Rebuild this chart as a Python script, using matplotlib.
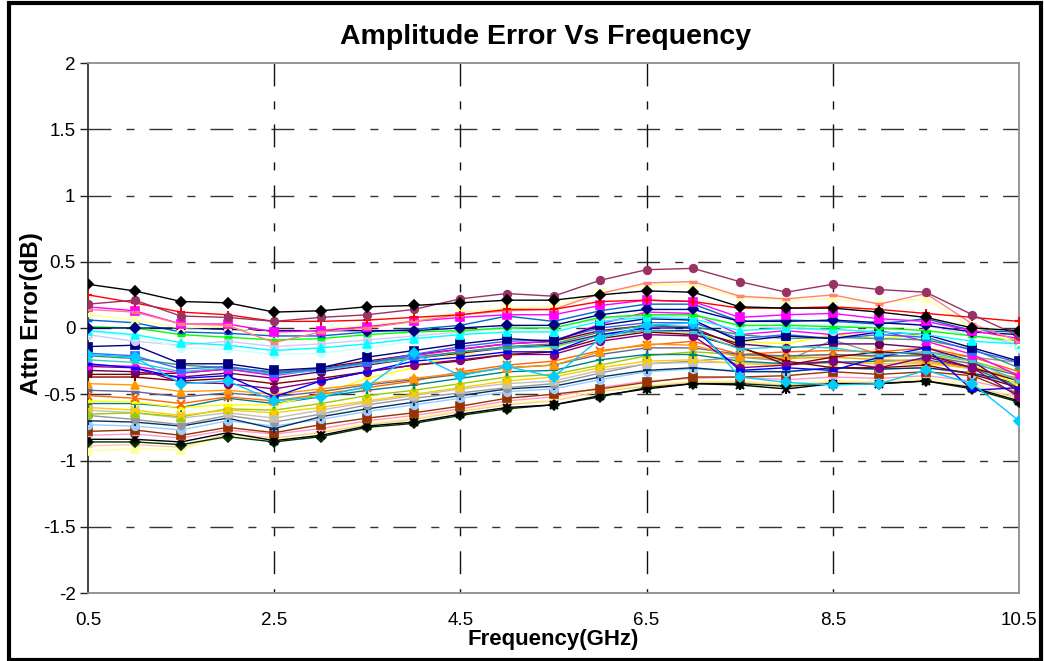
import matplotlib
matplotlib.use("Agg")
import matplotlib.pyplot as plt
from matplotlib.patches import Rectangle

plt.rcParams['font.family'] = ['Liberation Sans', 'DejaVu Sans']

freq = [0.5, 1.0, 1.5, 2.0, 2.5, 3.0, 3.5, 4.0, 4.5, 5.0, 5.5,
        6.0, 6.5, 7.0, 7.5, 8.0, 8.5, 9.0, 9.5, 10.0, 10.5]

x_ticks = [0.5, 2.5, 4.5, 6.5, 8.5, 10.5]
x_tick_labels = ["0.5", "2.5", "4.5", "6.5", "8.5", "10.5"]
y_ticks = [-2, -1.5, -1, -0.5, 0, 0.5, 1, 1.5, 2]
y_tick_labels = ["-2", "-1.5", "-1", "-0.5", "0", "0.5", "1", "1.5", "2"]

# Attenuation-state error curves (dB)
s01 = [0.33, 0.28, 0.20, 0.19, 0.12, 0.13, 0.16, 0.17, 0.19, 0.21, 0.21, 0.25, 0.28, 0.27, 0.16, 0.15, 0.15, 0.12, 0.08, 0.00, -0.02]
s02 = [0.18, 0.21, 0.09, 0.08, 0.05, 0.08, 0.10, 0.14, 0.22, 0.26, 0.24, 0.36, 0.44, 0.45, 0.35, 0.27, 0.33, 0.29, 0.27, 0.10, -0.06]
s03 = [0.25, 0.19, 0.12, 0.10, 0.05, 0.05, 0.06, 0.08, 0.10, 0.14, 0.14, 0.20, 0.21, 0.20, 0.15, 0.15, 0.16, 0.14, 0.11, 0.08, 0.05]
s04 = [0.14, 0.12, 0.03, 0.02, -0.11, -0.03, 0.00, 0.05, 0.10, 0.13, 0.14, 0.26, 0.34, 0.35, 0.24, 0.22, 0.25, 0.18, 0.26, 0.03, -0.10]
s05 = [0.16, 0.13, 0.03, 0.03, -0.03, -0.02, 0.01, 0.05, 0.08, 0.10, 0.10, 0.17, 0.21, 0.20, 0.08, 0.10, 0.11, 0.07, 0.05, -0.02, -0.08]
s06 = [0.10, 0.06, 0.00, 0.01, -0.05, -0.01, 0.02, 0.06, 0.12, 0.15, 0.16, 0.27, 0.32, 0.33, 0.23, 0.21, 0.22, 0.19, 0.22, 0.00, -0.12]
s07 = [0.00, 0.00, 0.00, -0.01, -0.02, -0.02, -0.02, -0.02, 0.00, 0.02, 0.02, 0.10, 0.14, 0.14, 0.05, 0.05, 0.06, 0.04, 0.02, -0.03, -0.05]
s08 = [0.06, 0.04, -0.03, -0.04, -0.06, -0.06, -0.03, -0.01, 0.02, 0.09, 0.05, 0.13, 0.18, 0.18, 0.05, 0.06, 0.05, 0.03, 0.07, -0.02, -0.03]
s09 = [0.01, 0.00, -0.05, -0.07, -0.09, -0.08, -0.05, -0.03, -0.02, 0.00, 0.00, 0.08, 0.10, 0.10, 0.02, 0.02, 0.01, 0.00, -0.02, -0.06, -0.10]
s10 = [-0.02, -0.05, -0.11, -0.13, -0.17, -0.15, -0.12, -0.08, -0.05, -0.03, -0.03, 0.05, 0.08, 0.07, -0.02, 0.00, -0.01, -0.03, -0.05, -0.10, -0.12]
s11 = [-0.03, -0.06, -0.15, -0.16, -0.20, -0.19, -0.15, -0.10, -0.04, 0.00, -0.03, 0.10, 0.15, 0.14, 0.00, 0.03, 0.02, 0.03, 0.05, -0.05, -0.15]
s12 = [-0.14, -0.13, -0.27, -0.27, -0.32, -0.30, -0.22, -0.17, -0.12, -0.08, -0.10, 0.02, 0.07, 0.06, -0.10, -0.06, -0.08, -0.03, -0.05, -0.15, -0.25]
s13 = [-0.20, -0.22, -0.42, -0.40, -0.55, -0.52, -0.44, -0.19, -0.36, -0.29, -0.37, -0.08, 0.02, 0.04, -0.37, -0.41, -0.43, -0.42, -0.32, -0.42, -0.70]
s14 = [-0.27, -0.30, -0.38, -0.36, -0.52, -0.40, -0.33, -0.25, -0.22, -0.18, -0.18, -0.05, 0.00, 0.00, -0.32, -0.30, -0.32, -0.22, -0.15, -0.47, -0.45]
s15 = [-0.37, -0.37, -0.40, -0.38, -0.42, -0.38, -0.33, -0.28, -0.25, -0.20, -0.18, -0.08, -0.03, -0.05, -0.15, -0.25, -0.30, -0.30, -0.28, -0.35, -0.45]
s16 = [-0.29, -0.30, -0.41, -0.42, -0.46, -0.40, -0.33, -0.28, -0.24, -0.20, -0.20, -0.10, -0.05, -0.06, -0.30, -0.28, -0.25, -0.30, -0.22, -0.30, -0.52]
s17 = [-0.42, -0.43, -0.48, -0.47, -0.50, -0.46, -0.42, -0.38, -0.34, -0.30, -0.28, -0.18, -0.12, -0.13, -0.22, -0.23, -0.22, -0.24, -0.25, -0.30, -0.38]
s18 = [-0.51, -0.53, -0.57, -0.52, -0.55, -0.50, -0.45, -0.40, -0.33, -0.28, -0.25, -0.17, -0.13, -0.10, -0.20, -0.18, -0.17, -0.18, -0.15, -0.22, -0.33]
s19 = [-0.57, -0.57, -0.60, -0.53, -0.57, -0.52, -0.47, -0.43, -0.38, -0.33, -0.32, -0.24, -0.20, -0.20, -0.25, -0.27, -0.26, -0.25, -0.24, -0.30, -0.45]
s20 = [-0.55, -0.56, -0.60, -0.58, -0.58, -0.50, -0.38, -0.30, -0.19, -0.22, -0.15, -0.05, -0.02, -0.05, -0.10, -0.12, -0.05, -0.08, -0.05, -0.28, -0.43]
s21 = [-0.65, -0.64, -0.67, -0.61, -0.62, -0.57, -0.51, -0.47, -0.42, -0.37, -0.35, -0.28, -0.21, -0.18, -0.20, -0.22, -0.20, -0.22, -0.20, -0.25, -0.35]
s22 = [-0.66, -0.69, -0.73, -0.66, -0.71, -0.65, -0.58, -0.53, -0.49, -0.45, -0.42, -0.34, -0.27, -0.25, -0.22, -0.25, -0.09, -0.20, -0.18, -0.22, -0.26]
s23 = [-0.60, -0.62, -0.66, -0.62, -0.64, -0.60, -0.55, -0.50, -0.45, -0.40, -0.37, -0.30, -0.25, -0.24, -0.27, -0.28, -0.26, -0.27, -0.27, -0.30, -0.40]
s24 = [-0.78, -0.77, -0.81, -0.75, -0.79, -0.73, -0.68, -0.64, -0.59, -0.53, -0.50, -0.46, -0.41, -0.37, -0.37, -0.36, -0.33, -0.35, -0.33, -0.36, -0.50]
s25 = [-0.84, -0.84, -0.86, -0.79, -0.85, -0.81, -0.74, -0.71, -0.65, -0.60, -0.58, -0.51, -0.46, -0.42, -0.43, -0.46, -0.42, -0.42, -0.40, -0.45, -0.55]
s26 = [-0.93, -0.91, -0.92, -0.81, -0.84, -0.78, -0.72, -0.68, -0.62, -0.57, -0.54, -0.47, -0.43, -0.40, -0.40, -0.42, -0.40, -0.40, -0.38, -0.42, -0.52]
s27 = [-0.89, -0.88, -0.90, -0.80, -0.83, -0.79, -0.73, -0.69, -0.63, -0.58, -0.55, -0.48, -0.44, -0.41, -0.41, -0.43, -0.41, -0.41, -0.40, -0.44, -0.53]
s28 = [-0.86, -0.86, -0.88, -0.82, -0.86, -0.82, -0.75, -0.72, -0.66, -0.61, -0.58, -0.52, -0.45, -0.42, -0.42, -0.44, -0.42, -0.42, -0.40, -0.46, -0.56]
s29 = [-0.81, -0.80, -0.83, -0.77, -0.80, -0.76, -0.70, -0.66, -0.61, -0.55, -0.52, -0.45, -0.40, -0.38, -0.37, -0.39, -0.37, -0.38, -0.36, -0.40, -0.48]
s30 = [-0.73, -0.74, -0.77, -0.70, -0.74, -0.69, -0.63, -0.58, -0.53, -0.48, -0.46, -0.39, -0.33, -0.31, -0.32, -0.33, -0.30, -0.31, -0.30, -0.35, -0.43]
s31 = [-0.70, -0.71, -0.74, -0.68, -0.76, -0.67, -0.61, -0.56, -0.51, -0.46, -0.44, -0.37, -0.32, -0.30, -0.33, -0.33, -0.30, -0.31, -0.30, -0.34, -0.42]
s32 = [-0.32, -0.33, -0.37, -0.34, -0.38, -0.33, -0.28, -0.23, -0.19, -0.15, -0.13, -0.05, -0.02, -0.02, -0.12, -0.15, -0.12, -0.12, -0.15, -0.25, -0.48]
s33 = [-0.35, -0.35, -0.34, -0.31, -0.35, -0.30, -0.25, -0.20, -0.16, -0.12, -0.10, -0.02, 0.02, 0.00, -0.14, -0.28, -0.22, -0.18, -0.20, -0.30, -0.40]
s34 = [-0.05, -0.10, -0.13, -0.10, -0.14, -0.12, -0.09, -0.06, -0.03, 0.01, 0.00, 0.07, 0.09, 0.09, 0.02, 0.00, -0.02, 0.06, 0.02, -0.06, -0.12]
s35 = [-0.62, -0.64, -0.68, -0.64, -0.68, -0.62, -0.56, -0.51, -0.46, -0.42, -0.40, -0.32, -0.27, -0.26, -0.26, -0.27, -0.25, -0.27, -0.26, -0.31, -0.38]
s36 = [-0.24, -0.26, -0.33, -0.30, -0.35, -0.32, -0.27, -0.23, -0.18, -0.15, -0.14, -0.06, -0.02, -0.03, -0.16, -0.14, -0.15, -0.20, -0.18, -0.25, -0.40]
s37 = [-0.21, -0.23, -0.28, -0.30, -0.33, -0.31, -0.26, -0.22, -0.18, -0.14, -0.12, -0.03, 0.02, 0.01, -0.05, -0.08, -0.07, -0.08, -0.09, -0.16, -0.30]
s38 = [-0.47, -0.48, -0.52, -0.49, -0.52, -0.48, -0.43, -0.39, -0.35, -0.30, -0.28, -0.20, -0.15, -0.15, -0.20, -0.21, -0.20, -0.21, -0.21, -0.27, -0.36]
s39 = [-0.19, -0.21, -0.31, -0.29, -0.34, -0.31, -0.26, -0.20, -0.14, -0.10, -0.09, 0.00, 0.04, 0.04, -0.08, -0.05, -0.08, -0.05, -0.07, -0.17, -0.26]
s40 = [-0.28, -0.29, -0.34, -0.31, -0.36, -0.31, -0.26, -0.21, -0.16, -0.12, -0.10, 0.03, 0.12, 0.11, -0.05, -0.02, -0.05, -0.02, -0.10, -0.20, -0.36]

series = [s26, s27, s28, s25, s29, s24, s30, s31, s22, s35, s21, s23, s19, s20, s18, s38,
          s17, s15, s33, s32, s16, s40, s14, s36, s37, s39, s12, s13, s34, s11, s10,
          s09, s08, s07, s06, s05, s04, s03, s02, s01]
colors = ["#FFFF99", "#FFCC99", "#003300", "#000000", "#FF99CC", "#993300", "#99CCFF", "#003366",
          "#969696", "#C0C0C0", "#99CC00", "#FFCC00", "#008080", "#FFFF00", "#FF6600", "#666699",
          "#FF9900", "#800000", "#800000", "#660066", "#800080", "#FF00FF", "#0000FF", "#33CCCC",
          "#339966", "#3366FF", "#000080", "#00CCFF", "#CCCCFF", "#CCFFFF", "#00FFFF",
          "#00FF00", "#0066CC", "#000080", "#FFFF99", "#FF00FF", "#FF8080", "#FF0000", "#993366", "#000000"]
markers = ["^", "_", "D", "star", "_", "s", "o", "+", "o", "s", "^", "x", "+", "_", "x", "_",
           "^", "+", "_", "o", "o", "^", "_", "_", "_", "s", "s", "D", "o", "o", "^",
           "_", "_", "D", "x", "s", "_", "+", "o", "D"]

fig = plt.figure(figsize=(10.44, 6.61), dpi=100)
ax = fig.add_axes([88 / 1044, 1 - 593 / 661, (1019 - 88) / 1044, (593 - 63) / 661])

ax.set_xlim(0.5, 10.5)
ax.set_ylim(-2, 2)

dash = (0, (16.5, 10.8, 5.8, 10.8))
for yv in y_ticks[1:-1]:
    ax.plot([0.5, 10.5], [yv, yv], color="#333333", lw=1.0, linestyle=dash, zorder=1)
for xv in x_ticks[1:-1]:
    ax.plot([xv, xv], [2, -2], color="#111111", lw=1.0, linestyle=dash, zorder=1)

for vals, c, m in zip(series, colors, markers):
    ms = 5.5
    mew = 1.2
    if m == "_":
        ms = 6
        mew = 2.5
    elif m in ("x", "+"):
        ms = 6
        mew = 1.5
    if m == "star":
        ax.plot(freq, vals, color=c, lw=1.0, marker="x", markersize=6,
                markeredgecolor=c, markeredgewidth=1.5, zorder=3)
        ax.plot(freq, vals, linestyle="none", marker="|", markersize=7,
                markeredgecolor=c, markeredgewidth=1.5, zorder=3)
    else:
        ax.plot(freq, vals, color=c, lw=1.0, marker=m, markersize=ms,
                markerfacecolor=c, markeredgecolor=c, markeredgewidth=mew, zorder=3)

for side in ("top", "right", "bottom"):
    ax.spines[side].set_color("#8c8c8c")
    ax.spines[side].set_linewidth(1.3)
ax.spines["left"].set_color("#222222")
ax.spines["left"].set_linewidth(1.2)

ax.set_yticks(y_ticks)
ax.set_yticklabels(y_tick_labels)
ax.set_xticks(x_ticks)
ax.set_xticklabels(x_tick_labels)
ax.tick_params(axis="y", direction="out", length=6, width=1, color="#222222",
               labelsize=13.5, pad=3)
ax.tick_params(axis="x", length=0, labelsize=13.5, pad=14)

fig.text(553 / 1044, 1 - 640 / 661, "Frequency(GHz)", ha="center", va="center",
         fontsize=16, fontweight="bold")
fig.text(32 / 1044, 1 - 314 / 661, "Attn Error(dB)", ha="center", va="center",
         rotation=90, fontsize=17.5, fontweight="bold")
fig.text(546 / 1044, 1 - 37 / 661, "Amplitude Error Vs Frequency", ha="center", va="center",
         fontsize=20.5, fontweight="bold")

fig.patches.append(Rectangle((9 / 1044, 1 / 661), 1032 / 1044, 657 / 661, transform=fig.transFigure,
                             fill=False, edgecolor="black", lw=3, zorder=10))

fig.savefig("out.png", dpi=100)
